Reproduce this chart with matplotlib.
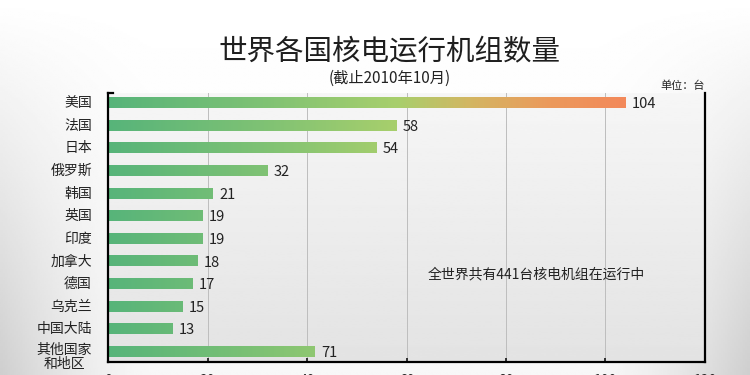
import numpy as np
import matplotlib
matplotlib.use("Agg")
import matplotlib.pyplot as plt
from matplotlib.colors import LinearSegmentedColormap
from matplotlib.transforms import blended_transform_factory

plt.rcParams['font.family'] = ['Noto Sans CJK SC', 'DejaVu Sans']

# data
countries = ["美国", "法国", "日本", "俄罗斯", "韩国", "英国", "印度",
             "加拿大", "德国", "乌克兰", "中国大陆", "其他国家\n和地区"]
units = [104, 58, 54, 32, 21, 19, 19, 18, 17, 15, 13, 71]
# the last bar is drawn shorter than its value in the original graphic
drawn = units[:-1] + [41.5]
x_ticks = [0, 20, 40, 60, 80, 100, 120]
title = "世界各国核电运行机组数量"
subtitle = "(截止2010年10月)"
unit_note = "单位：台"
note = "全世界共有441台核电机组在运行中"

fig = plt.figure(figsize=(7.5, 3.75), dpi=100)
fig.patch.set_facecolor("white")

# soft page background
bg = fig.add_axes([0, 0, 1, 1], zorder=-5)
yy, xx = np.mgrid[0:1:200j, 0:1:400j]
edge = np.clip(1 - 2.2 * np.minimum(xx, 1 - xx) * 2.2, 0, 1) ** 1.5
shade = 1 - 0.16 * yy * edge - 0.03 * yy
bg.imshow(shade, cmap="gray", vmin=0, vmax=1, extent=(0, 1, 0, 1), aspect="auto", origin="upper")
bg.axis("off")

ax = fig.add_axes([0.144, 0.035, 0.796, 0.717])

# axes face gradient
face = np.linspace(0.965, 0.89, 100).reshape(-1, 1)
ax.imshow(face, cmap="gray", vmin=0, vmax=1, extent=(0, 1, 0, 1), aspect="auto",
          transform=ax.transAxes, zorder=0)

cmap = LinearSegmentedColormap.from_list(
    "bar", [(0, "#57b47a"), (0.3, "#7fc274"), (0.56, "#a8cf6c"),
            (0.7, "#d3b662"), (0.85, "#eb9a5c"), (1, "#f3895a")])

h = 0.45
for i, (v, L) in enumerate(zip(units, drawn)):
    grad = np.linspace(0, L, 300).reshape(1, -1)
    ax.imshow(grad, cmap=cmap, vmin=0, vmax=104, aspect="auto",
              extent=(0, L, i + h / 2, i - h / 2), zorder=2)
    ax.text(L + 1.3, i + 0.05, str(v), va="center", ha="left", fontsize=10.5,
            color="#222222", zorder=3)

for t in x_ticks[1:-1]:
    ax.axvline(t, color="#bdbdbd", lw=0.7, zorder=1)

ax.set_xlim(0, 120)
ax.set_ylim(len(countries) - 1 + 0.44, -0.44)
ax.set_xticks(x_ticks)
ax.tick_params(axis="x", direction="in", length=3, width=1.3, labelsize=10, pad=9,
               colors="#222222")
ax.set_yticks([])

for s in ["left", "bottom", "right"]:
    ax.spines[s].set_linewidth(1.6)
    ax.spines[s].set_color("black")
ax.spines["top"].set_visible(False)
ax.plot([0, 1.0], [-0.44, -0.44], color="black", lw=1.6, clip_on=False, zorder=5)

tr = blended_transform_factory(ax.transAxes, ax.transData)
for i, name in enumerate(countries):
    if "\n" in name:
        ax.text(-0.027, i - 0.42, name, transform=tr, ha="right", va="top",
                multialignment="center", fontsize=10, linespacing=1.05, color="#222222")
    else:
        ax.text(-0.027, i, name, transform=tr, ha="right", va="center",
                fontsize=10, color="#222222")

ax.text(86, 7.6, note, ha="center", va="center", fontsize=10, color="#222222", zorder=3)

fig.text(0.52, 1 - 51 / 375, title, ha="center", va="center", fontsize=20.5, color="#1e1e1e")
fig.text(0.52, 1 - 78 / 375, subtitle, ha="center", va="center", fontsize=11, color="#222222")
fig.text(0.94, 1 - 86 / 375, unit_note, ha="right", va="center", fontsize=8, color="#222222")

fig.savefig("out.png", dpi=100)
